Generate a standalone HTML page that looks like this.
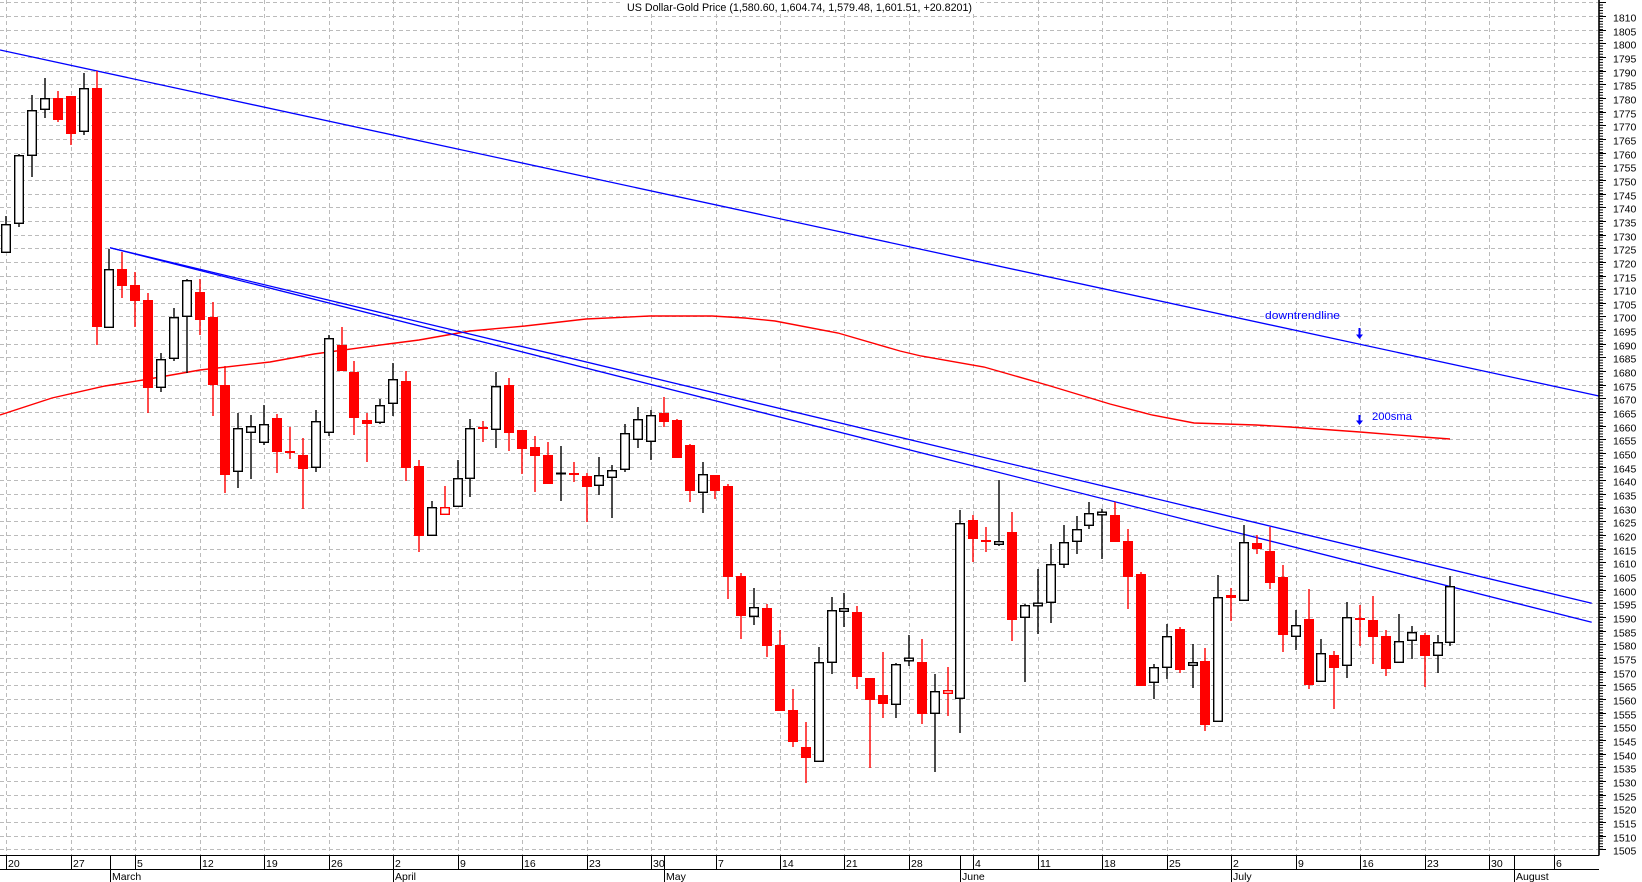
<!DOCTYPE html>
<html><head><meta charset="utf-8"><style>
html,body{margin:0;padding:0;background:#fff;}
svg{display:block;}
text{font-family:"Liberation Sans",Arial,sans-serif;fill:#000;}
.w rect{fill:#fff;stroke:#000;stroke-width:1.4;}
.h rect{fill:#fff;stroke:#f00;stroke-width:1.4;}
.r rect{fill:#f00;}
.yl text{font-size:10.5px;}
.dl text{font-size:10.5px;}
</style></head><body>
<svg width="1642" height="882" viewBox="0 0 1642 882" xmlns="http://www.w3.org/2000/svg">
<rect x="0" y="0" width="1642" height="882" fill="#fff"/>
<defs>
<pattern id="tk" x="1599" y="1.8" width="10" height="2.732" patternUnits="userSpaceOnUse"><rect x="0" y="0" width="4" height="1" fill="#000"/></pattern>
</defs>
<!-- horizontal grid -->
<path fill="none" stroke="#bbb" stroke-width="1" stroke-dasharray="4 3" shape-rendering="crispEdges" d="M0 2.5H1598M0 16.5H1598M0 30.5H1598M0 43.5H1598M0 57.5H1598M0 71.5H1598M0 84.5H1598M0 98.5H1598M0 112.5H1598M0 125.5H1598M0 139.5H1598M0 153.5H1598M0 166.5H1598M0 180.5H1598M0 194.5H1598M0 207.5H1598M0 221.5H1598M0 235.5H1598M0 248.5H1598M0 262.5H1598M0 276.5H1598M0 289.5H1598M0 303.5H1598M0 316.5H1598M0 330.5H1598M0 344.5H1598M0 357.5H1598M0 371.5H1598M0 385.5H1598M0 398.5H1598M0 412.5H1598M0 426.5H1598M0 439.5H1598M0 453.5H1598M0 467.5H1598M0 480.5H1598M0 494.5H1598M0 508.5H1598M0 521.5H1598M0 535.5H1598M0 549.5H1598M0 562.5H1598M0 576.5H1598M0 590.5H1598M0 603.5H1598M0 617.5H1598M0 631.5H1598M0 644.5H1598M0 658.5H1598M0 672.5H1598M0 685.5H1598M0 699.5H1598M0 713.5H1598M0 726.5H1598M0 740.5H1598M0 754.5H1598M0 767.5H1598M0 781.5H1598M0 795.5H1598M0 808.5H1598M0 822.5H1598M0 836.5H1598M0 849.5H1598"/>
<!-- vertical grid -->
<path fill="none" stroke="#bbb" stroke-width="1" stroke-dasharray="4 3" shape-rendering="crispEdges" d="M6.5 0V855M71.5 0V855M135.5 0V855M200.5 0V855M264.5 0V855M329.5 0V855M393.5 0V855M458.5 0V855M522.5 0V855M587.5 0V855M651.5 0V855M716.5 0V855M780.5 0V855M844.5 0V855M909.5 0V855M973.5 0V855M1038.5 0V855M1102.5 0V855M1167.5 0V855M1231.5 0V855M1296.5 0V855M1360.5 0V855M1425.5 0V855M1489.5 0V855M1554.5 0V855"/>
<!-- title -->
<rect x="622" y="0" width="354" height="13" fill="#fff"/>
<text x="627" y="11" font-size="11" textLength="345" lengthAdjust="spacingAndGlyphs">US Dollar-Gold Price (1,580.60, 1,604.74, 1,579.48, 1,601.51, +20.8201)</text>

<!-- 200 sma -->
<polyline fill="none" stroke="#f00" stroke-width="1.4" points="0,415 52,398 105,386 143,380 200,370 270,362 314,354 388,344 419,340 470,331 525,326 586,319 650,316 712,316 745,318 775,321 838,333 900,351 921,356 984,367 1047,385 1110,404 1152,415 1194,423 1256,425 1290,427 1360,432 1423,437 1450,439"/>

<!-- trend lines -->
<g stroke="#00f" stroke-width="1.3" fill="none">
<line x1="0" y1="50" x2="1599" y2="396"/>
<line x1="110" y1="247.7" x2="1591.7" y2="603.3"/>
<line x1="110" y1="247.7" x2="1591.7" y2="622.3"/>
</g>

<!-- wicks -->
<path fill="none" stroke="#000" stroke-width="1.4" d="M6 216V253M19 154V227M32 95V177M45 78V118M84 73V135M109 249V328M161 353V392M174 308V361M187 279V373M238 413V488M251 415V479M264 405V445M316 410V472M329 335V436M380 399V424M393 363V416M432 501V536M458 460V507M470 419V497M496 372V448M561 446V501M599 457V495M612 465V518M625 424V472M638 407V448M651 410V460M703 462V513M754 588V625M819 647V762M832 597V674M844 593V627M896 663V718M909 635V666M935 674V772M960 510V733M999 480V546M1025 604V682M1038 569V634M1051 544V623M1064 525V568M1077 516V554M1089 502V529M1102 509V559M1154 664V699M1167 624V679M1193 644V688M1218 575V722M1244 525V601M1296 610V650M1321 639V682M1347 602V678M1399 614V663M1412 626V659M1438 635V673M1450 576V646"/>
<path fill="none" stroke="#f00" stroke-width="1.4" d="M58 91V122M71 96V145M97 71V345M122 252V298M135 272V327M148 293V413M200 279V335M213 302V416M225 366V493M277 414V473M290 427V459M303 438V509M342 327V371M354 361V435M367 413V462M406 371V481M419 460V552M445 486V515M483 421V442M509 378V451M522 430V474M535 436V492M548 442V484M574 462V482M587 473V522M664 397V427M677 419V458M690 444V502M715 475V499M728 484V599M741 573V639M767 604V657M780 630V711M793 689V747M806 722V783M857 606V689M870 678V768M883 652V718M922 639V724M948 667V716M973 515V562M986 527V552M1012 512V641M1115 502V542M1128 529V609M1141 572V686M1180 627V673M1205 648V731M1231 588V621M1257 535V554M1270 527V589M1283 565V652M1309 589V689M1334 651V709M1360 605V646M1373 596V664M1386 630V676M1425 633V687"/>

<!-- red bodies -->
<g class="r">
<rect x="53" y="98" width="10" height="22"/>
<rect x="66" y="96" width="10" height="38"/>
<rect x="92" y="88" width="10" height="239"/>
<rect x="117" y="269" width="10" height="17"/>
<rect x="130" y="285" width="10" height="16"/>
<rect x="143" y="300" width="10" height="88"/>
<rect x="195" y="292" width="10" height="28"/>
<rect x="208" y="317" width="10" height="68"/>
<rect x="220" y="385" width="10" height="90"/>
<rect x="272" y="418" width="10" height="34"/>
<rect x="285" y="451" width="10" height="2"/>
<rect x="298" y="455" width="10" height="14"/>
<rect x="337" y="345" width="10" height="26"/>
<rect x="349" y="372" width="10" height="46"/>
<rect x="362" y="420" width="10" height="4"/>
<rect x="401" y="381" width="10" height="87"/>
<rect x="414" y="466" width="10" height="70"/>
<rect x="478" y="427" width="10" height="2"/>
<rect x="504" y="385" width="10" height="48"/>
<rect x="517" y="430" width="10" height="19"/>
<rect x="530" y="447" width="10" height="9"/>
<rect x="543" y="455" width="10" height="29"/>
<rect x="569" y="473" width="10" height="2"/>
<rect x="582" y="476" width="10" height="11"/>
<rect x="659" y="413" width="10" height="9"/>
<rect x="672" y="420" width="10" height="38"/>
<rect x="685" y="445" width="10" height="46"/>
<rect x="710" y="475" width="10" height="16"/>
<rect x="723" y="486" width="10" height="91"/>
<rect x="736" y="576" width="10" height="40"/>
<rect x="762" y="608" width="10" height="38"/>
<rect x="775" y="645" width="10" height="66"/>
<rect x="788" y="710" width="10" height="32"/>
<rect x="801" y="747" width="10" height="11"/>
<rect x="852" y="612" width="10" height="65"/>
<rect x="865" y="678" width="10" height="22"/>
<rect x="878" y="695" width="10" height="9"/>
<rect x="917" y="662" width="10" height="52"/>
<rect x="968" y="520" width="10" height="19"/>
<rect x="981" y="540" width="10" height="2"/>
<rect x="1007" y="532" width="10" height="88"/>
<rect x="1110" y="515" width="10" height="27"/>
<rect x="1123" y="541" width="10" height="36"/>
<rect x="1136" y="574" width="10" height="112"/>
<rect x="1175" y="629" width="10" height="41"/>
<rect x="1200" y="661" width="10" height="64"/>
<rect x="1226" y="595" width="10" height="3"/>
<rect x="1252" y="543" width="10" height="6"/>
<rect x="1265" y="551" width="10" height="32"/>
<rect x="1278" y="577" width="10" height="58"/>
<rect x="1304" y="619" width="10" height="66"/>
<rect x="1329" y="655" width="10" height="13"/>
<rect x="1355" y="618" width="10" height="2"/>
<rect x="1368" y="620" width="10" height="17"/>
<rect x="1381" y="636" width="10" height="33"/>
<rect x="1420" y="635" width="10" height="21"/>
</g>
<g class="h">
<rect x="440.7" y="507.7" width="8.6" height="6.6"/>
<rect x="943.7" y="690.7" width="8.6" height="2.6"/>
</g>
<rect x="556" y="472.5" width="10" height="2" fill="#000"/>
<!-- white bodies -->
<g class="w">
<rect x="1.7" y="224.7" width="8.6" height="27.6"/>
<rect x="14.7" y="155.7" width="8.6" height="67.6"/>
<rect x="27.7" y="110.7" width="8.6" height="44.6"/>
<rect x="40.7" y="98.7" width="8.6" height="10.6"/>
<rect x="79.7" y="88.7" width="8.6" height="42.6"/>
<rect x="104.7" y="269.7" width="8.6" height="57.6"/>
<rect x="156.7" y="359.7" width="8.6" height="27.6"/>
<rect x="169.7" y="317.7" width="8.6" height="40.6"/>
<rect x="182.7" y="280.7" width="8.6" height="35.6"/>
<rect x="233.7" y="428.7" width="8.6" height="42.6"/>
<rect x="246.7" y="426.7" width="8.6" height="5.6"/>
<rect x="259.7" y="424.7" width="8.6" height="17.6"/>
<rect x="311.7" y="421.7" width="8.6" height="45.6"/>
<rect x="324.7" y="338.7" width="8.6" height="93.6"/>
<rect x="375.7" y="405.7" width="8.6" height="16.6"/>
<rect x="388.7" y="379.7" width="8.6" height="23.6"/>
<rect x="427.7" y="507.7" width="8.6" height="27.6"/>
<rect x="453.7" y="478.7" width="8.6" height="27.6"/>
<rect x="465.7" y="428.7" width="8.6" height="49.6"/>
<rect x="491.7" y="386.7" width="8.6" height="42.6"/>
<rect x="594.7" y="475.7" width="8.6" height="9.6"/>
<rect x="607.7" y="470.7" width="8.6" height="6.6"/>
<rect x="620.7" y="433.7" width="8.6" height="35.6"/>
<rect x="633.7" y="419.7" width="8.6" height="19.6"/>
<rect x="646.7" y="415.7" width="8.6" height="25.6"/>
<rect x="698.7" y="474.7" width="8.6" height="17.6"/>
<rect x="749.7" y="607.7" width="8.6" height="8.6"/>
<rect x="814.7" y="662.7" width="8.6" height="98.6"/>
<rect x="827.7" y="610.7" width="8.6" height="51.6"/>
<rect x="839.7" y="608.7" width="8.6" height="2.6"/>
<rect x="891.7" y="664.7" width="8.6" height="39.6"/>
<rect x="904.7" y="658.2" width="8.6" height="2.6"/>
<rect x="930.7" y="691.7" width="8.6" height="21.6"/>
<rect x="955.7" y="523.7" width="8.6" height="174.6"/>
<rect x="994.7" y="541.7" width="8.6" height="2.6"/>
<rect x="1020.7" y="605.7" width="8.6" height="11.6"/>
<rect x="1033.7" y="603.2" width="8.6" height="2.6"/>
<rect x="1046.7" y="564.7" width="8.6" height="37.6"/>
<rect x="1059.7" y="542.7" width="8.6" height="21.6"/>
<rect x="1072.7" y="529.7" width="8.6" height="11.6"/>
<rect x="1084.7" y="513.7" width="8.6" height="11.6"/>
<rect x="1097.7" y="512.2" width="8.6" height="2.6"/>
<rect x="1149.7" y="667.7" width="8.6" height="14.6"/>
<rect x="1162.7" y="636.7" width="8.6" height="30.6"/>
<rect x="1188.7" y="662.7" width="8.6" height="2.6"/>
<rect x="1213.7" y="597.7" width="8.6" height="123.6"/>
<rect x="1239.7" y="542.7" width="8.6" height="57.6"/>
<rect x="1291.7" y="625.7" width="8.6" height="10.6"/>
<rect x="1316.7" y="653.7" width="8.6" height="27.6"/>
<rect x="1342.7" y="617.7" width="8.6" height="47.6"/>
<rect x="1394.7" y="641.7" width="8.6" height="20.6"/>
<rect x="1407.7" y="632.7" width="8.6" height="7.6"/>
<rect x="1433.7" y="642.7" width="8.6" height="12.6"/>
<rect x="1445.7" y="586.7" width="8.6" height="55.6"/>
</g>

<!-- annotations -->
<text x="1265" y="319" font-size="11" fill="#00f" style="fill:#00f" textLength="75" lengthAdjust="spacingAndGlyphs">downtrendline</text>
<rect x="1358.5" y="328" width="2" height="7" fill="#00f"/>
<polygon points="1356,334.5 1363,334.5 1359.5,339" fill="#00f"/>
<rect x="1358.5" y="415" width="2" height="6" fill="#00f"/>
<polygon points="1356,420.5 1363,420.5 1359.5,425" fill="#00f"/>
<text x="1372" y="420" font-size="11" style="fill:#00f" textLength="40" lengthAdjust="spacingAndGlyphs">200sma</text>

<!-- right axis -->
<line x1="1599" y1="0" x2="1599" y2="855.5" stroke="#000" stroke-width="1.6"/>
<rect x="1599" y="2" width="5" height="848" fill="url(#tk)"/>
<path fill="none" stroke="#000" stroke-width="1" shape-rendering="crispEdges" d="M1599 2.5h7M1599 16.5h7M1599 30.5h7M1599 43.5h7M1599 57.5h7M1599 71.5h7M1599 84.5h7M1599 98.5h7M1599 112.5h7M1599 125.5h7M1599 139.5h7M1599 153.5h7M1599 166.5h7M1599 180.5h7M1599 194.5h7M1599 207.5h7M1599 221.5h7M1599 235.5h7M1599 248.5h7M1599 262.5h7M1599 276.5h7M1599 289.5h7M1599 303.5h7M1599 316.5h7M1599 330.5h7M1599 344.5h7M1599 357.5h7M1599 371.5h7M1599 385.5h7M1599 398.5h7M1599 412.5h7M1599 426.5h7M1599 439.5h7M1599 453.5h7M1599 467.5h7M1599 480.5h7M1599 494.5h7M1599 508.5h7M1599 521.5h7M1599 535.5h7M1599 549.5h7M1599 562.5h7M1599 576.5h7M1599 590.5h7M1599 603.5h7M1599 617.5h7M1599 631.5h7M1599 644.5h7M1599 658.5h7M1599 672.5h7M1599 685.5h7M1599 699.5h7M1599 713.5h7M1599 726.5h7M1599 740.5h7M1599 754.5h7M1599 767.5h7M1599 781.5h7M1599 795.5h7M1599 808.5h7M1599 822.5h7M1599 836.5h7M1599 849.5h7"/>
<g class="yl">
<text x="1613" y="21.5">1810</text>
<text x="1613" y="35.5">1805</text>
<text x="1613" y="48.5">1800</text>
<text x="1613" y="62.5">1795</text>
<text x="1613" y="76.5">1790</text>
<text x="1613" y="89.5">1785</text>
<text x="1613" y="103.5">1780</text>
<text x="1613" y="117.5">1775</text>
<text x="1613" y="130.5">1770</text>
<text x="1613" y="144.5">1765</text>
<text x="1613" y="158.5">1760</text>
<text x="1613" y="171.5">1755</text>
<text x="1613" y="185.5">1750</text>
<text x="1613" y="199.5">1745</text>
<text x="1613" y="212.5">1740</text>
<text x="1613" y="226.5">1735</text>
<text x="1613" y="240.5">1730</text>
<text x="1613" y="253.5">1725</text>
<text x="1613" y="267.5">1720</text>
<text x="1613" y="281.5">1715</text>
<text x="1613" y="294.5">1710</text>
<text x="1613" y="308.5">1705</text>
<text x="1613" y="321.5">1700</text>
<text x="1613" y="335.5">1695</text>
<text x="1613" y="349.5">1690</text>
<text x="1613" y="362.5">1685</text>
<text x="1613" y="376.5">1680</text>
<text x="1613" y="390.5">1675</text>
<text x="1613" y="403.5">1670</text>
<text x="1613" y="417.5">1665</text>
<text x="1613" y="431.5">1660</text>
<text x="1613" y="444.5">1655</text>
<text x="1613" y="458.5">1650</text>
<text x="1613" y="472.5">1645</text>
<text x="1613" y="485.5">1640</text>
<text x="1613" y="499.5">1635</text>
<text x="1613" y="513.5">1630</text>
<text x="1613" y="526.5">1625</text>
<text x="1613" y="540.5">1620</text>
<text x="1613" y="554.5">1615</text>
<text x="1613" y="567.5">1610</text>
<text x="1613" y="581.5">1605</text>
<text x="1613" y="595.5">1600</text>
<text x="1613" y="608.5">1595</text>
<text x="1613" y="622.5">1590</text>
<text x="1613" y="636.5">1585</text>
<text x="1613" y="649.5">1580</text>
<text x="1613" y="663.5">1575</text>
<text x="1613" y="677.5">1570</text>
<text x="1613" y="690.5">1565</text>
<text x="1613" y="704.5">1560</text>
<text x="1613" y="718.5">1555</text>
<text x="1613" y="731.5">1550</text>
<text x="1613" y="745.5">1545</text>
<text x="1613" y="759.5">1540</text>
<text x="1613" y="772.5">1535</text>
<text x="1613" y="786.5">1530</text>
<text x="1613" y="800.5">1525</text>
<text x="1613" y="813.5">1520</text>
<text x="1613" y="827.5">1515</text>
<text x="1613" y="841.5">1510</text>
<text x="1613" y="854.5">1505</text>
</g>

<!-- bottom date axis -->
<path fill="none" stroke="#000" stroke-width="1.3" shape-rendering="crispEdges" d="M0 855.5H1599M0 869.5H1599"/>
<path fill="none" stroke="#000" stroke-width="1" shape-rendering="crispEdges" d="M6.5 855V869M71.5 855V869M135.5 855V869M200.5 855V869M264.5 855V869M329.5 855V869M393.5 855V869M458.5 855V869M522.5 855V869M587.5 855V869M651.5 855V869M716.5 855V869M780.5 855V869M844.5 855V869M909.5 855V869M973.5 855V869M1038.5 855V869M1102.5 855V869M1167.5 855V869M1231.5 855V869M1296.5 855V869M1360.5 855V869M1425.5 855V869M1489.5 855V869M1554.5 855V869M110.5 855V882M393.5 855V882M664.5 855V882M960.5 855V882M1231.5 855V882M1514.5 855V882"/>
<g class="dl">
<text x="8" y="867">20</text>
<text x="73" y="867">27</text>
<text x="137" y="867">5</text>
<text x="202" y="867">12</text>
<text x="266" y="867">19</text>
<text x="331" y="867">26</text>
<text x="395" y="867">2</text>
<text x="460" y="867">9</text>
<text x="524" y="867">16</text>
<text x="589" y="867">23</text>
<text x="653" y="867">30</text>
<text x="718" y="867">7</text>
<text x="782" y="867">14</text>
<text x="846" y="867">21</text>
<text x="911" y="867">28</text>
<text x="975" y="867">4</text>
<text x="1040" y="867">11</text>
<text x="1104" y="867">18</text>
<text x="1169" y="867">25</text>
<text x="1233" y="867">2</text>
<text x="1298" y="867">9</text>
<text x="1362" y="867">16</text>
<text x="1427" y="867">23</text>
<text x="1491" y="867">30</text>
<text x="1556" y="867">6</text>
<text x="112" y="880">March</text>
<text x="395" y="880">April</text>
<text x="666" y="880">May</text>
<text x="962" y="880">June</text>
<text x="1233" y="880">July</text>
<text x="1516" y="880">August</text>
</g>
</svg>
</body></html>
